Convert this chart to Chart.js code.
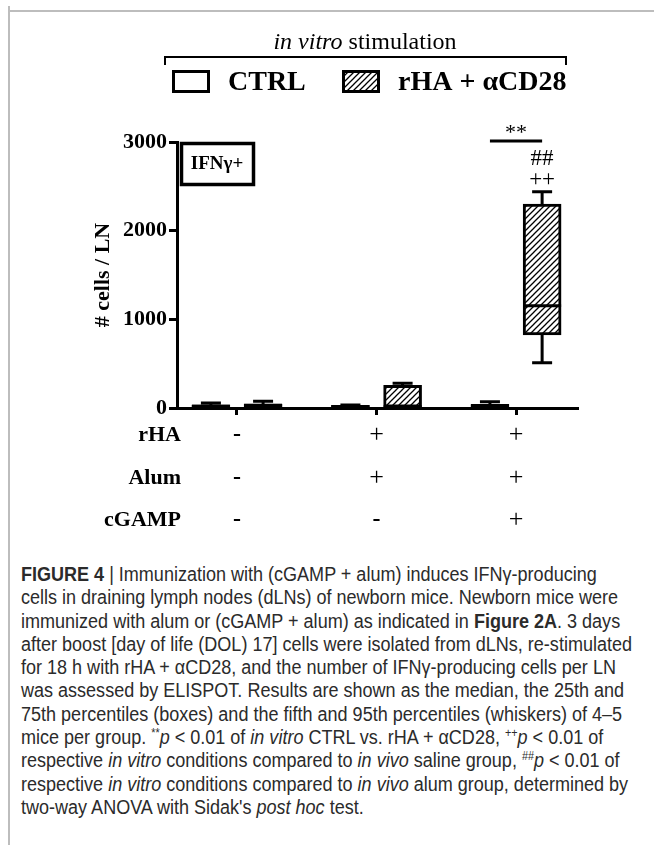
<!DOCTYPE html>
<html><head><meta charset="utf-8">
<script src="https://cdn.jsdelivr.net/npm/chart.js@4/dist/chart.umd.min.js"></script>
<style>
html,body{margin:0;padding:0;background:#fff;width:654px;height:845px;overflow:hidden;position:relative}
#frameTop{position:absolute;left:9px;top:10px;width:645px;height:0;border-top:2px solid #bdbdbd}
#frameLeft{position:absolute;left:8px;top:6px;width:0;height:839px;border-left:2px solid #bdbdbd}
#wrap{position:absolute;left:0;top:0;width:654px;height:560px}
#cap{position:absolute;left:21px;top:563px;font-family:"Liberation Sans",Arial,sans-serif;font-size:20px;line-height:23.3px;color:#2b2b2b;white-space:nowrap;transform-origin:0 0}
#cap sup{font-size:12px;line-height:0;vertical-align:7px}
#cap span.l{display:inline-block}
</style></head>
<body>
<div id="frameTop"></div><div id="frameLeft"></div>
<div id="wrap"><canvas id="c" width="654" height="560"></canvas></div>
<div id="cap">
<div><b>FIGURE 4</b> | Immunization with (cGAMP + alum) induces IFNγ-producing</div>
<div><span class="l" id="refLine">cells in draining lymph nodes (dLNs) of newborn mice. Newborn mice were</span></div>
<div>immunized with alum or (cGAMP + alum) as indicated in <b>Figure 2A</b>. 3 days</div>
<div>after boost [day of life (DOL) 17] cells were isolated from dLNs, re-stimulated</div>
<div>for 18 h with rHA + αCD28, and the number of IFNγ-producing cells per LN</div>
<div>was assessed by ELISPOT. Results are shown as the median, the 25th and</div>
<div>75th percentiles (boxes) and the fifth and 95th percentiles (whiskers) of 4–5</div>
<div>mice per group. <sup>**</sup><i>p</i> &lt; 0.01 of <i>in vitro</i> CTRL vs. rHA + αCD28, <sup>++</sup><i>p</i> &lt; 0.01 of</div>
<div>respective <i>in vitro</i> conditions compared to <i>in vivo</i> saline group, <sup>##</sup><i>p</i> &lt; 0.01 of</div>
<div>respective <i>in vitro</i> conditions compared to <i>in vivo</i> alum group, determined by</div>
<div>two-way ANOVA with Sidak's <i>post hoc</i> test.</div>
</div>
<script>
// ---- data ----
const groups = [0, 1, 2]; // in vivo groups: saline, alum, cGAMP+alum
const rowLabels = ['rHA', 'Alum', 'cGAMP'];
const rowSigns = [['-', '+', '+'], ['-', '+', '+'], ['-', '-', '+']];
const seriesNames = ['CTRL', 'rHA + αCD28'];
const ctrlLow = [0, 0, 0];
const ctrlQ1 = [5, 5, 5];
const ctrlMedian = [20, 15, 20];
const ctrlQ3 = [35, 30, 40];
const ctrlHigh = [55, 35, 70];
const rhaLow = [0, 0, 511];
const rhaQ1 = [5, 10, 823];
const rhaMedian = [30, 15, 1154];
const rhaQ3 = [45, 255, 2301];
const rhaHigh = [75, 280, 2440];
const yTicks = [0, 1000, 2000, 3000];
const sigStars = '**', sigHash = '##', sigPlus = '++';

// caption: condense horizontally like the reference typeface
(function () {
  const cap = document.getElementById('cap');
  const w = document.getElementById('refLine').getBoundingClientRect().width;
  const k = 597 / w;
  cap.style.transform = 'scaleX(' + k + ')';
})();

const SERIF = '"Liberation Serif","Times New Roman",serif';
const OFF = 0.187;

// hatch pattern
const pc = document.createElement('canvas'); pc.width = 6; pc.height = 6;
const px = pc.getContext('2d');
px.fillStyle = '#fff'; px.fillRect(0, 0, 6, 6);
px.strokeStyle = '#000'; px.lineWidth = 1.3;
px.beginPath();
px.moveTo(-1, 7); px.lineTo(7, -1);
px.moveTo(-4, 4); px.lineTo(4, -4);
px.moveTo(2, 10); px.lineTo(10, 2);
px.stroke();
const hatch = px.createPattern(pc, 'repeat');

function mk(q1, q3, off) {
  return groups.map((g, i) => ({ x: g + off, y: [q1[i], q3[i]] }));
}
const boxStats = [
  { low: ctrlLow, q1: ctrlQ1, med: ctrlMedian, q3: ctrlQ3, high: ctrlHigh, off: -OFF },
  { low: rhaLow, q1: rhaQ1, med: rhaMedian, q3: rhaQ3, high: rhaHigh, off: OFF }
];

const BW = 38;
const boxPlugin = {
  id: 'boxExtras',
  afterDatasetsDraw(chart) {
    const ctx = chart.ctx, xs = chart.scales.x, ys = chart.scales.y;
    ctx.save();
    ctx.strokeStyle = '#000'; ctx.lineWidth = 3; ctx.lineCap = 'butt';
    boxStats.forEach(s => {
      groups.forEach((g, i) => {
        const cx = xs.getPixelForValue(g + s.off);
        const yl = ys.getPixelForValue(s.low[i]), y1 = ys.getPixelForValue(s.q1[i]);
        const ym = ys.getPixelForValue(s.med[i]), y3 = ys.getPixelForValue(s.q3[i]);
        const yh = ys.getPixelForValue(s.high[i]);
        ctx.beginPath();
        ctx.moveTo(cx, y3); ctx.lineTo(cx, yh);
        ctx.moveTo(cx - 10, yh); ctx.lineTo(cx + 10, yh);
        ctx.moveTo(cx, y1); ctx.lineTo(cx, yl);
        ctx.moveTo(cx - 10, yl); ctx.lineTo(cx + 10, yl);
        ctx.moveTo(cx - BW / 2, ym); ctx.lineTo(cx + BW / 2, ym);
        ctx.stroke();
      });
    });
    ctx.restore();
  },
  afterDraw(chart) {
    const ctx = chart.ctx, xs = chart.scales.x, ys = chart.scales.y;
    ctx.save();
    ctx.fillStyle = '#000'; ctx.strokeStyle = '#000';
    // in vitro title
    ctx.textBaseline = 'alphabetic';
    ctx.font = 'italic 24px ' + SERIF;
    const t1 = 'in vitro', t2 = ' stimulation';
    const w1 = ctx.measureText(t1).width;
    ctx.font = '24px ' + SERIF;
    const w2 = ctx.measureText(t2).width;
    let sx = 365 - (w1 + w2) / 2;
    ctx.font = 'italic 24px ' + SERIF; ctx.fillText(t1, sx, 49);
    ctx.font = '24px ' + SERIF; ctx.fillText(t2, sx + w1, 49);
    // bracket
    ctx.lineWidth = 2;
    ctx.beginPath();
    ctx.moveTo(165, 65); ctx.lineTo(165, 57); ctx.lineTo(566, 57); ctx.lineTo(566, 65);
    ctx.stroke();
    // legend
    ctx.lineWidth = 3;
    ctx.strokeRect(173.5, 71.5, 35, 20);
    ctx.fillStyle = hatch; ctx.fillRect(343, 71, 36, 21);
    ctx.strokeRect(343.5, 71.5, 35, 20);
    ctx.fillStyle = '#000';
    ctx.font = 'bold 28px ' + SERIF; ctx.textBaseline = 'middle'; ctx.textAlign = 'left';
    ctx.fillText(seriesNames[0], 228, 83);
    ctx.fillText(seriesNames[1], 398, 83);
    // IFNg box
    ctx.lineWidth = 3.5;
    ctx.strokeRect(181.5, 143.5, 72, 41);
    ctx.font = 'bold 19px ' + SERIF; ctx.textAlign = 'center';
    ctx.fillText('IFNγ+', 217, 164);
    // significance
    const xa = xs.getPixelForValue(2 - OFF), xb = xs.getPixelForValue(2 + OFF);
    const yl = ys.getPixelForValue(3010);
    ctx.lineWidth = 3;
    ctx.beginPath(); ctx.moveTo(xa, yl); ctx.lineTo(xb, yl); ctx.stroke();
    ctx.font = '22px ' + SERIF;
    ctx.fillText(sigStars, (xa + xb) / 2, 133);
    ctx.font = '23px ' + SERIF;
    ctx.fillText(sigHash, xb, 159);
    ctx.fillText(sigPlus, xb, 180);
    // rows under axis
    const rowY = [435, 478, 520];
    rowLabels.forEach((lab, r) => {
      ctx.textAlign = 'right'; ctx.font = 'bold 22px ' + SERIF;
      ctx.fillText(lab, 181, rowY[r]);
      ctx.textAlign = 'center';
      rowSigns[r].forEach((s, i) => {
        ctx.font = (s === '-' ? 'bold 24px ' : '26px ') + SERIF;
        ctx.fillText(s, xs.getPixelForValue(groups[i]), rowY[r]);
      });
    });
    ctx.restore();
  }
};

new Chart(document.getElementById('c'), {
  type: 'bar',
  data: {
    datasets: [
      { label: seriesNames[0], data: mk(ctrlQ1, ctrlQ3, -OFF), backgroundColor: '#fff', borderColor: '#000', borderWidth: 3, borderSkipped: false, barThickness: BW, grouped: false },
      { label: seriesNames[1], data: mk(rhaQ1, rhaQ3, OFF), backgroundColor: hatch, borderColor: '#000', borderWidth: 3, borderSkipped: false, barThickness: BW, grouped: false }
    ]
  },
  options: {
    responsive: false, animation: false, devicePixelRatio: 1,
    layout: { padding: { left: 80, top: 142, right: 77, bottom: 0 } },
    plugins: { legend: { display: false }, tooltip: { enabled: false } },
    scales: {
      x: {
        type: 'linear', min: -0.43, max: 2.437, offset: false,
        afterBuildTicks: s => { s.ticks = groups.map(v => ({ value: v })); },
        afterFit: s => { s.height = 560 - 408; },
        ticks: { display: false },
        grid: { display: true, offset: false, drawOnChartArea: false, drawTicks: true, tickLength: 7, lineWidth: 3, color: '#000' },
        border: { display: true, width: 3, color: '#000' }
      },
      y: {
        min: 0, max: 3000,
        afterBuildTicks: s => { s.ticks = yTicks.map(v => ({ value: v })); },
        afterFit: s => { s.width = 97; },
        ticks: { color: '#000', font: { family: SERIF, size: 22, weight: 'bold' }, padding: 2, callback: v => String(v) },
        grid: { display: true, drawOnChartArea: false, drawTicks: true, tickLength: 8, lineWidth: 3, color: '#000' },
        border: { display: true, width: 3, color: '#000' },
        title: { display: true, text: '# cells / LN', color: '#000', font: { family: SERIF, size: 22, weight: 'bold' }, padding: { top: 10, bottom: 0 } }
      }
    }
  },
  plugins: [boxPlugin]
});
</script>
</body></html>
